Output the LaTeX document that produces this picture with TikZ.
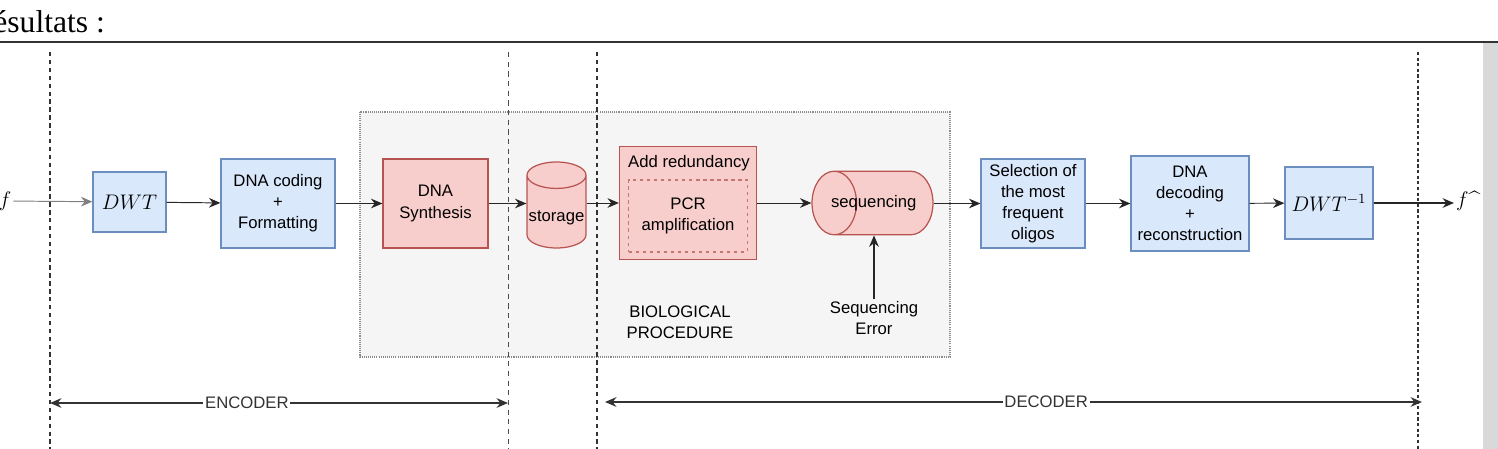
\documentclass[tikz,border=0pt]{standalone}
\usepackage{fontspec}
\usetikzlibrary{arrows.meta,shapes.geometric}
\newfontfamily\drawfont{Liberation Sans}
\newfontfamily\pagefont{Liberation Serif}
\newcommand\blockfont{\drawfont\fontsize{9.5}{12}\selectfont}
\definecolor{bluefill}{HTML}{DAE8FC}
\definecolor{blueline}{HTML}{6C8EBF}
\definecolor{redfill}{HTML}{F8CECC}
\definecolor{redline}{HTML}{B85450}
\definecolor{bgfill}{HTML}{F5F5F5}
\tikzset{
  blueblock/.style={draw=blueline, fill=bluefill, line width=0.7pt, align=center, font=\blockfont, inner sep=0pt},
  redblock/.style={draw=redline, fill=redfill, line width=0.7pt, align=center, font=\blockfont, inner sep=0pt},
  flow/.style={-{Stealth[length=6.5pt,width=5.5pt]}, line width=0.55pt, black!85},
  sepline/.style={black!80, line width=0.9pt, dash pattern=on 2.5pt off 2pt},
  span/.style={{Stealth[length=6.5pt,width=5.5pt]}-{Stealth[length=6.5pt,width=5.5pt]}, line width=1.1pt, black!80},
  spantext/.style={fill=white, inner sep=1pt, font=\blockfont}
}
\begin{document}
\begin{tikzpicture}[x=0.02cm, y=-0.02cm]
  \useasboundingbox (0,0) rectangle (1498,449);
  % page heading and rule
  \node[anchor=base west, inner sep=0pt, font=\pagefont\fontsize{18}{20}\selectfont] (title) at (-7,33) {ésultats :};
  \draw[line width=1pt, black!80] (0,42) -- (1498,42);
  \fill[black!15] (1483,43) rectangle (1498,449);

  % biological procedure area
  \fill[bgfill] (360,112) rectangle (950,357);
  \draw[black!45, line width=0.6pt, dash pattern=on 0.6pt off 0.6pt] (360,112) rectangle (950,357);

  % separators
  \draw[sepline] (50,52) -- (50,449);
  \draw[black!70, line width=0.5pt, dash pattern=on 3pt off 2.5pt] (508,52) -- (508,449);
  \draw[sepline] (597,52) -- (597,449);
  \draw[sepline, dash pattern=on 1.8pt off 1.4pt] (1418,52) -- (1418,449);

  % encoder blocks
  \node[inner sep=1pt, font=\fontsize{12}{14}\selectfont] (f) at (5,201) {$f$};
  \node[blueblock, minimum width=1.46cm, minimum height=1.2cm, font=\fontsize{11.5}{13}\selectfont] (dwt) at (129.5,202) {$DWT$};
  \node[blueblock, minimum width=2.28cm, minimum height=1.78cm] (coding) at (278,203.5) {DNA coding\\+\\Formatting};
  \node[redblock, minimum width=2.1cm, minimum height=1.78cm] (synth) at (435.5,203.5) {DNA\\Synthesis};
  \node[redblock, shape=cylinder, shape border rotate=90, aspect=0.45, inner xsep=0.03cm, minimum width=1.18cm, minimum height=1.72cm, anchor=shape center] (storage) at (556.5,205) {\raisebox{-0.38cm}{storage}};

  % decoder blocks
  \node[redblock, minimum width=2.74cm, minimum height=2.26cm] (redund) at (688,203) {};
  \node[font=\blockfont, inner sep=1pt] (redtext) at (689,163) {Add redundancy};
  \node[redblock, draw=redline!80, dash pattern=on 2pt off 2pt, minimum width=2.38cm, minimum height=1.44cm] (pcr) at (688,216) {PCR\\amplification};
  \node[redblock, shape=cylinder, shape border rotate=180, aspect=0.7, inner xsep=0pt, inner ysep=0.48cm, minimum width=1.2cm, minimum height=2.42cm, anchor=shape center] (seq) at (872.5,203) {\hspace*{-0.84cm}sequencing};
  \node[align=center, font=\blockfont, inner sep=1pt] (err) at (874,318) {Sequencing\\Error};
  \node[align=center, font=\blockfont, inner sep=1pt] (bio) at (680,322) {BIOLOGICAL\\PROCEDURE};
  \node[blueblock, minimum width=2.08cm, minimum height=1.78cm] (sel) at (1033,203.5) {Selection of\\the most\\frequent\\oligos};
  \node[blueblock, minimum width=2.36cm, minimum height=1.9cm] (dec) at (1190,203.5) {DNA\\decoding\\+\\reconstruction};
  \node[blueblock, minimum width=1.76cm, minimum height=1.44cm, font=\fontsize{11.5}{13}\selectfont] (idwt) at (1329,203) {$DWT^{-1}$};
  \node[inner sep=1pt, anchor=west, font=\fontsize{12}{14}\selectfont] (fhat) at (1454,201) {$f$\textasciicircum};

  % main chain
  \draw[flow, black!50] (f) -- (dwt);
  \draw[flow] (dwt) -- (coding);
  \draw[flow] (coding) -- (synth);
  \draw[flow] (synth.east) -- (synth.east -| storage.west);
  \draw[flow] (storage.east |- redund.west) -- (redund.west);
  \draw[flow] (redund.east) -- (redund.east -| seq.west);
  \draw[flow] (seq.east |- sel.west) -- (sel.west);
  \draw[flow] (sel) -- (dec);
  \draw[flow] (dec) -- (idwt);
  \draw[flow, line width=0.9pt] (idwt.east) -- (fhat.west |- idwt.east);
  \draw[flow, line width=0.8pt] (err.north) -- (err.north |- seq.south);

  % encoder / decoder spans
  \coordinate (encl) at (50,403);
  \coordinate (encr) at (508,403);
  \coordinate (decl) at (605,402);
  \coordinate (decr) at (1422,402);
  \draw[span] (encl) -- (encr) node[spantext, pos=0.43] (enc) {ENCODER};
  \draw[span] (decl) -- (decr) node[spantext, pos=0.54] (decod) {DECODER};
\end{tikzpicture}
\end{document}
